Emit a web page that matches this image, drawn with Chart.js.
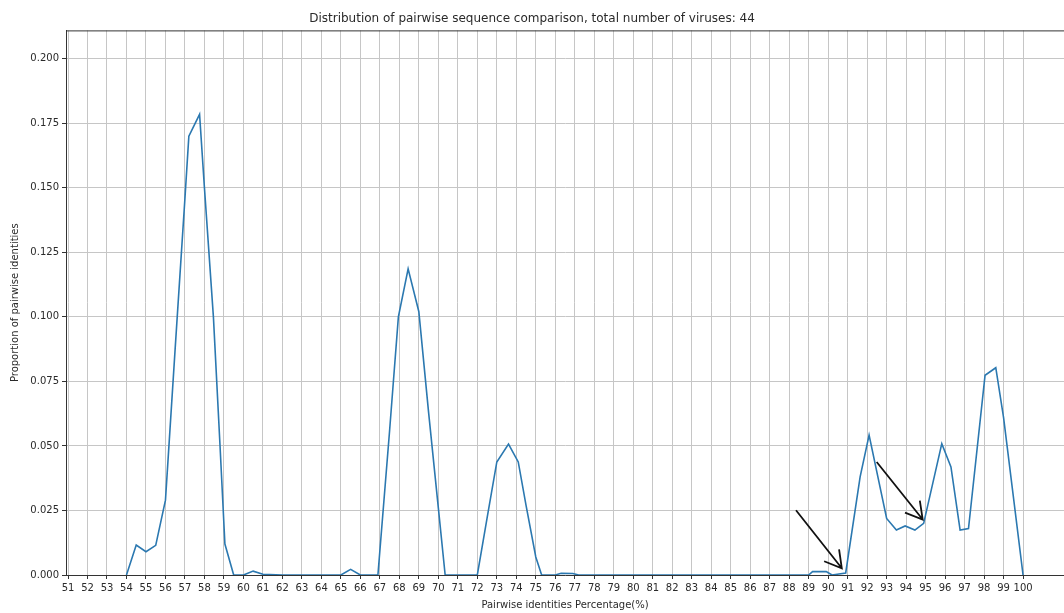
<!DOCTYPE html>
<html>
<head>
<meta charset="utf-8">
<script src="https://cdn.jsdelivr.net/npm/chart.js@4.4.0/dist/chart.umd.min.js"></script>
<style>
    html, body { margin: 0; padding: 0; background: #fff; overflow: hidden; }
    #contenedor { width: 1064px; height: 613px; }
</style>
</head>
<body>
<div id="contenedor"><canvas id="pairwise"></canvas></div>
<script>
const xTicks = [51, 52, 53, 54, 55, 56, 57, 58, 59, 60, 61, 62, 63, 64, 65, 66, 67, 68, 69, 70,
    71, 72, 73, 74, 75, 76, 77, 78, 79, 80, 81, 82, 83, 84, 85, 86, 87, 88, 89, 90,
    91, 92, 93, 94, 95, 96, 97, 98, 99, 100];
const yTicks = [0, 0.025, 0.05, 0.075, 0.1, 0.125, 0.15, 0.175, 0.2];

// identidad (%) y proporcion
const identidades = [54.0, 54.5, 55.0, 55.5, 56.0, 56.5, 57.0, 57.2, 57.75, 58.0, 58.46, 58.8, 59.05, 59.5,
    60.0, 60.5, 61.0, 62.0, 63.0, 64.0, 65.0, 65.5, 66.0, 66.9,
    67.5, 67.95, 68.45, 69.0, 69.5, 70.0, 70.35, 71.0, 72.0,
    72.5, 73.0, 73.6, 74.1, 74.5, 75.0, 75.3, 76.0, 76.3, 76.9, 77.2,
    80.0, 85.0, 89.0, 89.2, 89.9, 90.2, 90.9,
    91.64, 92.1, 93.0, 93.5, 93.95, 94.45, 94.9, 95.83, 96.3, 96.77, 97.2, 98.05, 98.6, 99.0, 100.0];
const proporciones = [0, 0.0116, 0.009, 0.0115, 0.029, 0.088, 0.146, 0.170, 0.1785, 0.150, 0.100, 0.050, 0.012, 0,
    0, 0.0015, 0.0003, 0, 0, 0, 0, 0.0022, 0, 0,
    0.056, 0.100, 0.1186, 0.102, 0.063, 0.026, 0, 0, 0,
    0.022, 0.0438, 0.0507, 0.0438, 0.027, 0.007, 0, 0, 0.0007, 0.0006, 0,
    0, 0, 0, 0.0013, 0.0013, 0, 0.0008,
    0.038, 0.0542, 0.0219, 0.0174, 0.019, 0.0174, 0.020, 0.0509, 0.0419, 0.0174, 0.018, 0.0774, 0.0803, 0.061, 0];

// flechas negras: desde / hasta (en unidades de los ejes)
const flechaDesde = [[88.35, 0.0251], [92.49, 0.0438]];
const flechaHasta = [[90.7, 0.0026], [94.85, 0.0215]];

const fuente = 'DejaVu Sans';
const colorTexto = '#2a2a2a';
let chartPairwise;

function crearGrafico() {
    const puntos = [];
    for (let i = 0; i < identidades.length; i++) {
        puntos.push({ x: identidades[i], y: proporciones[i] });
    }

    const bgColor = {
        id: 'bgColor',
        beforeDraw: (chart) => {
            const { ctx, width, height } = chart;
            ctx.save();
            ctx.fillStyle = 'white';
            ctx.fillRect(0, 0, width, height);
            ctx.restore();
        }
    };

    // borde superior del marco
    const marco = {
        id: 'marco',
        afterDraw: (chart) => {
            const { ctx, chartArea } = chart;
            ctx.save();
            ctx.strokeStyle = '#333';
            ctx.lineWidth = 1;
            ctx.beginPath();
            ctx.moveTo(chartArea.left, chartArea.top + 0.5);
            ctx.lineTo(chartArea.right, chartArea.top + 0.5);
            ctx.stroke();
            ctx.restore();
        }
    };

    const flechas = {
        id: 'flechas',
        afterDatasetsDraw: (chart) => {
            const { ctx, scales } = chart;
            ctx.save();
            ctx.strokeStyle = '#111';
            ctx.lineWidth = 1.8;
            for (let i = 0; i < flechaDesde.length; i++) {
                const x0 = scales.x.getPixelForValue(flechaDesde[i][0]);
                const y0 = scales.y.getPixelForValue(flechaDesde[i][1]);
                const x1 = scales.x.getPixelForValue(flechaHasta[i][0]);
                const y1 = scales.y.getPixelForValue(flechaHasta[i][1]);
                const ang = Math.atan2(y1 - y0, x1 - x0);
                const largo = 19;
                ctx.beginPath();
                ctx.moveTo(x0, y0);
                ctx.lineTo(x1, y1);
                ctx.moveTo(x1 - largo * Math.cos(ang - Math.PI / 6), y1 - largo * Math.sin(ang - Math.PI / 6));
                ctx.lineTo(x1, y1);
                ctx.lineTo(x1 - largo * Math.cos(ang + Math.PI / 6), y1 - largo * Math.sin(ang + Math.PI / 6));
                ctx.stroke();
            }
            ctx.restore();
        }
    };

    const ctx = document.getElementById('pairwise').getContext('2d');
    if (chartPairwise) {
        chartPairwise.destroy();
    }

    chartPairwise = new Chart(ctx, {
        type: 'line',
        data: {
            datasets: [{
                label: 'Pairwise identities',
                data: puntos,
                borderColor: '#2b78b0',
                borderWidth: 1.6,
                pointRadius: 0,
                tension: 0,
                fill: false
            }]
        },
        options: {
            responsive: true,
            maintainAspectRatio: false,
            animation: false,
            layout: { padding: 0 },
            plugins: {
                legend: { display: false },
                tooltip: { enabled: false },
                title: {
                    display: true,
                    text: 'Distribution of pairwise sequence comparison, total number of viruses: 44',
                    color: colorTexto,
                    font: { family: fuente, size: 12, weight: 'normal' },
                    padding: { top: 12, bottom: 4 }
                }
            },
            scales: {
                x: {
                    type: 'linear',
                    min: 50.897,
                    max: 102.1,
                    afterBuildTicks: (s) => { s.ticks = xTicks.map(v => ({ value: v })); },
                    afterFit: (s) => { s.height = 38; },
                    ticks: {
                        autoSkip: false,
                        maxRotation: 0,
                        padding: 3,
                        color: colorTexto,
                        font: { family: fuente, size: 10 },
                        callback: (v) => String(v)
                    },
                    grid: { color: '#c6c6c6', tickColor: '#333', tickLength: 4, lineWidth: 1 },
                    border: { color: '#333', width: 1 },
                    title: {
                        display: true,
                        text: 'Pairwise identities Percentage(%)',
                        color: colorTexto,
                        font: { family: fuente, size: 10 },
                        padding: { top: 0, bottom: 2 }
                    }
                },
                y: {
                    min: 0,
                    max: 0.211,
                    afterBuildTicks: (s) => { s.ticks = yTicks.map(v => ({ value: v })); },
                    afterFit: (s) => { s.width = 66; },
                    ticks: {
                        padding: 3,
                        color: colorTexto,
                        font: { family: fuente, size: 10 },
                        callback: (v) => Number(v).toFixed(3)
                    },
                    grid: { color: '#c6c6c6', tickColor: '#333', tickLength: 4, lineWidth: 1 },
                    border: { color: '#333', width: 1 },
                    title: {
                        display: true,
                        text: 'Proportion of pairwise identities',
                        color: colorTexto,
                        font: { family: fuente, size: 10 },
                        padding: 9
                    }
                }
            }
        },
        plugins: [bgColor, marco, flechas]
    });
}

crearGrafico();
</script>
</body>
</html>
